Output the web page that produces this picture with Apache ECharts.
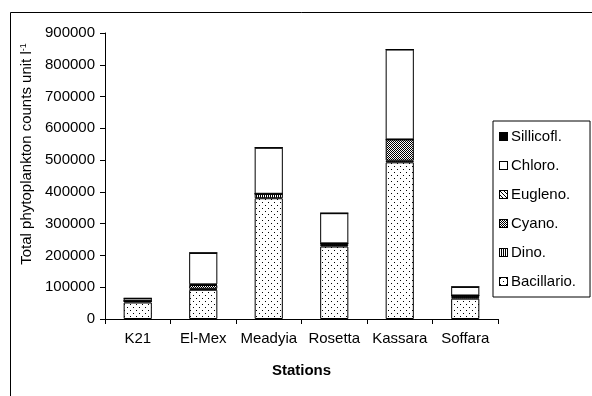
<!DOCTYPE html>
<html><head><meta charset="utf-8">
<script src="https://cdn.jsdelivr.net/npm/echarts@6/dist/echarts.min.js"></script>
<style>html,body{margin:0;padding:0;background:#fff}#c{width:592px;height:396px}</style>
</head><body><div id="c"></div>
<script>
const stations = ['K21','El-Mex','Meadyia','Rosetta','Kassara','Soffara'];
const bacillario = [52000, 92000, 380000, 228000, 493000, 64000];
const dino       = [5000, 3000, 14000, 5000, 5000, 5000];
const cyano      = [0, 12000, 0, 5000, 67000, 5000];
const eugleno    = [0, 2000, 0, 0, 0, 0];
const chloro     = [8000, 99000, 145000, 95000, 283000, 27000];
const sillicofl  = [0, 0, 0, 0, 0, 0];
const yTicks = [0,100000,200000,300000,400000,500000,600000,700000,800000,900000];
const legendOrder = ['Sillicofl.','Chloro.','Eugleno.','Cyano.','Dino.','Bacillario.'];

function tile(w,h,draw){const c=document.createElement('canvas');c.width=w;c.height=h;const g=c.getContext('2d');g.fillStyle='#fff';g.fillRect(0,0,w,h);g.fillStyle='#000';draw(g);return c;}
const dDots = g=>{g.fillRect(1,1,1,1);g.fillRect(4,4,1,1);};
const dVert = g=>{g.fillRect(0,0,1,2);};
const dCross = g=>{g.fillRect(0,0,1,1);g.fillRect(2,0,1,1);g.fillRect(1,1,1,1);g.fillRect(3,1,1,1);g.fillRect(0,2,1,1);g.fillRect(2,2,1,1);g.fillRect(1,3,1,1);g.fillRect(3,3,1,1);};
const dDiag = g=>{g.fillRect(0,0,1,1);g.fillRect(1,1,1,1);g.fillRect(2,2,1,1);g.fillRect(3,3,1,1);};
const tiles = {
  'Bacillario.':tile(6,6,dDots),'Dino.':tile(2,2,dVert),'Cyano.':tile(4,4,dCross),
  'Eugleno.':tile(4,4,dDiag),'Chloro.':tile(1,1,()=>{}),'Sillicofl.':tile(1,1,g=>g.fillRect(0,0,1,1))
};
function fillOf(n){return {image:tiles[n],repeat:'repeat'};}
function iconOf(n){
  const c=document.createElement('canvas');c.width=9;c.height=9;const g=c.getContext('2d');
  g.fillStyle=g.createPattern(tiles[n],'repeat');g.fillRect(0,0,9,9);
  g.strokeStyle='#000';g.lineWidth=1;g.strokeRect(0.5,0.5,8,8);
  return 'image://'+c.toDataURL();
}
const F = 'Liberation Sans, Arial, sans-serif';

function s(name,data){return {name,type:'bar',stack:'a',data,barWidth:'43%',itemStyle:{color:fillOf(name),borderColor:'#000',borderWidth:1},emphasis:{disabled:true},animation:false};}

const chart = echarts.init(document.getElementById('c'),null,{renderer:'canvas'});
chart.setOption({
  animation:false,
  backgroundColor:'#fff',
  textStyle:{fontFamily:F},
  grid:{left:105,right:94,top:33,bottom:77,containLabel:false},
  legend:{orient:'vertical',left:493,top:121,itemWidth:9,itemHeight:9,itemGap:14,
    borderColor:'#000',borderWidth:1,padding:[8,14,8,6],
    textStyle:{fontFamily:F,fontSize:15,color:'#000',padding:[0,0,0,-2]},
    data:legendOrder.map(n=>({name:n,icon:iconOf(n)}))},
  xAxis:{type:'category',data:stations,
    axisLine:{lineStyle:{color:'#000'}},
    axisTick:{show:true,length:5,lineStyle:{color:'#000'}},
    axisLabel:{color:'#000',fontSize:15,fontFamily:F,margin:12,interval:0},
    name:'Stations',nameLocation:'middle',nameGap:44,
    nameTextStyle:{color:'#000',fontSize:15,fontWeight:'bold',fontFamily:F}},
  yAxis:{type:'value',min:yTicks[0],max:yTicks[yTicks.length-1],interval:100000,
    axisLine:{show:true,lineStyle:{color:'#000'}},
    axisTick:{show:true,length:5,lineStyle:{color:'#000'}},
    splitLine:{show:false},
    axisLabel:{color:'#000',fontSize:15,fontFamily:F,margin:10,formatter:v=>String(v)}},
  graphic:[
    {type:'rect',shape:{x:10.5,y:12.5,width:600,height:400},style:{fill:null,stroke:'#000',lineWidth:1},silent:true},
    {type:'text',x:27,y:154,rotation:Math.PI/2,silent:true,
     style:{text:'{a|Total phytoplankton counts unit l}{b|-1}',align:'center',verticalAlign:'middle',
       rich:{a:{fontSize:15,fill:'#000',fontFamily:F},b:{fontSize:9,fill:'#000',fontFamily:F,verticalAlign:'top',padding:[0,0,7,0]}}}}
  ],
  series:[
    s('Bacillario.',bacillario),
    s('Dino.',dino),
    s('Cyano.',cyano),
    s('Eugleno.',eugleno),
    s('Chloro.',chloro),
    s('Sillicofl.',sillicofl)
  ]
});
</script></body></html>
